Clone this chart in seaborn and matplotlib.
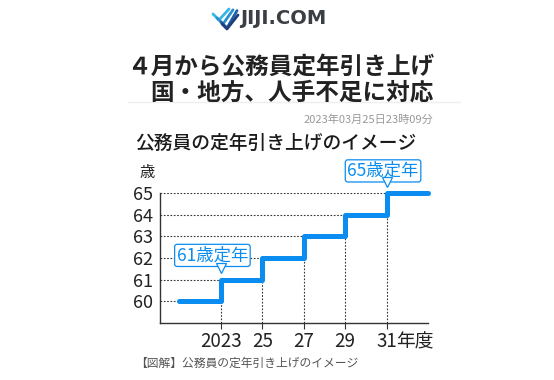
import matplotlib
matplotlib.use("Agg")
import matplotlib.pyplot as plt
from matplotlib.lines import Line2D
import seaborn as sns

# データ
years = [2021, 2023, 2025, 2027, 2029, 2031, 2033]
ages = [60, 61, 62, 63, 64, 65, 65]
tick_years = [2023, 2025, 2027, 2029, 2031]
tick_labels = ["2023", "25", "27", "29", "31"]
age_ticks = [60, 61, 62, 63, 64, 65]

title1 = "４月から公務員定年引き上げ"
title2 = "国・地方、人手不足に対応"
stamp = "2023年03月25日23時09分"
subtitle = "公務員の定年引き上げのイメージ"
caption = "【図解】公務員の定年引き上げのイメージ"

BLUE = "#0a8cf0"
DARK = "#333333"

sns.set_style("white")
plt.rcParams["font.family"] = ["Noto Sans CJK JP", "DejaVu Sans"]

fig = plt.figure(figsize=(5.54, 3.80), dpi=100)
ax = fig.add_axes([160 / 554, 57 / 380, 268 / 554, 130 / 380])

# 階段状の線
sns.lineplot(x=years, y=ages, drawstyle="steps-post", estimator=None,
             color=BLUE, linewidth=3.6, ax=ax, clip_on=False, zorder=3)

ax.set_xlim(2020.06, 2033)
ax.set_ylim(59, 65)

# 点線の補助線
for x0, lv in zip(years[:-1], ages[:-1]):
    ax.plot([2020.06, x0], [lv, lv], color=DARK, lw=0.8, ls=(0, (1.5, 1.5)), zorder=1)
for x0, lv in zip(years[1:-1], ages[:-2]):
    ax.plot([x0, x0], [59, lv], color=DARK, lw=0.8, ls=(0, (1.5, 1.5)), zorder=1)

ax.set_xticks(tick_years)
ax.set_xticklabels(tick_labels)
ax.set_yticks(age_ticks)
ax.tick_params(axis="x", length=4, width=0.8, color=DARK, labelsize=13.5, pad=1.5,
               direction="out", bottom=True)
ax.tick_params(axis="y", length=0, labelsize=13, pad=5)
for lab in ax.get_xticklabels() + ax.get_yticklabels():
    lab.set_color("#222222")
ax.annotate("年度", xy=(2031, 0), xycoords=("data", "axes fraction"),
            xytext=(7, -6), textcoords="offset points", ha="left", va="top",
            fontsize=13.5, color="#222222")
ax.set_xlabel("")
ax.set_ylabel("")
sns.despine(ax=ax)
for s in ["left", "bottom"]:
    ax.spines[s].set_color(DARK)
    ax.spines[s].set_linewidth(1.0)

# 吹き出し
def callout(text, tip, center, tri_y):
    ax.text(center[0], center[1], text, ha="center", va="center", fontsize=12.5,
            color=BLUE, zorder=5,
            bbox=dict(boxstyle="round,pad=0.12,rounding_size=0.15", fc="white",
                      ec=BLUE, lw=0.9))
    ax.plot(tip[0], tri_y, marker="v", ms=6.5, mfc="white", mec=BLUE, mew=0.9,
            clip_on=False, zorder=6)

callout("61歳定年", (2023, 61.25), (2022.59, 62.12), 61.56)
callout("65歳定年", (2031, 65.23), (2030.83, 66.02), 65.5)

# 見出し
fig.text(434 / 554, 1 - 67 / 380, title1, ha="right", va="center",
         fontsize=17, fontweight="bold", color="#222222")
fig.text(434 / 554, 1 - 93 / 380, title2, ha="right", va="center",
         fontsize=17, fontweight="bold", color="#222222")
fig.add_artist(Line2D([128 / 554, 460 / 554], [1 - 102 / 380] * 2,
                      color="#eeeeee", lw=1))
fig.text(433 / 554, 1 - 120 / 380, stamp, ha="right", va="center",
         fontsize=8, color="#999999")
fig.text(135 / 554, 1 - 143 / 380, subtitle, ha="left", va="center",
         fontsize=13.5, fontweight="medium", color="#1a1a1a")
fig.text(147 / 554, 1 - 173 / 380, "歳", ha="center", va="center",
         fontsize=11, color="#222222")
fig.text(135 / 554, 1 - 363 / 380, caption, ha="left", va="center",
         fontsize=8.5, color="#555555")

# ロゴ
fig.text(240 / 554, 1 - 18 / 380, "JIJI.COM", ha="left", va="center",
         fontsize=14, fontweight="bold", color="#3a3f45", family="DejaVu Sans")
for i, c in enumerate(["#35b6e8", "#2a8fd0", "#1d5fa8"]):
    d = i * 4
    fig.add_artist(Line2D([(213 + d) / 554, (219 + d) / 554, (229 + d) / 554],
                          [1 - (14 + d) / 380, 1 - (20 + d) / 380, 1 - (9 + d * 0.2) / 380],
                          color=c, lw=2.0))
fig.add_artist(Line2D([222 / 554, 227 / 554, 238 / 554],
                      [1 - 24 / 380, 1 - 29 / 380, 1 - 15 / 380],
                      color="#1f3f7a", lw=2.0))

fig.savefig("out.png", dpi=100)
